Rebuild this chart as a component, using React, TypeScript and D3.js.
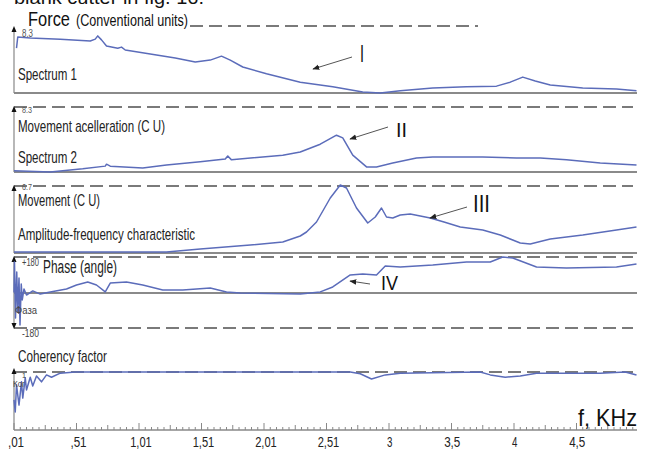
import { useRef, useEffect } from "react";
import * as d3 from "d3";

// frequency, kHz -> value (conventional units)
const spectrum1: [number, number][] = [
  [0.03, 6.2], [0.04, 7.75], [0.14, 7.6], [0.38, 7.45], [0.62, 7.2], [0.66, 7.45], [0.68, 7.9],
  [0.71, 7.35], [0.75, 6.5], [0.84, 6.2], [0.87, 6.35], [0.9, 5.95], [1.1, 5.4], [1.3, 4.85],
  [1.46, 4.3], [1.58, 4.55], [1.67, 5.1], [1.74, 4.55], [1.84, 3.6], [2.03, 2.65], [2.3, 1.5],
  [2.56, 0.85], [2.8, 0.15], [2.94, 0], [3.1, 0.3], [3.36, 0.7], [3.63, 0.85], [3.87, 0.95],
  [3.98, 1.5], [4.08, 2.2], [4.18, 1.65], [4.3, 1.1], [4.56, 0.7], [4.83, 0.55], [4.99, 0.3],
];

const spectrum2: [number, number][] = [
  [0.01, 0.15], [0.3, 0], [0.56, 0.4], [0.74, 0.75], [0.75, 1.0], [0.78, 0.75], [1.04, 0.5],
  [1.23, 0.9], [1.5, 1.3], [1.7, 1.65], [1.72, 2.05], [1.75, 1.55], [2.16, 2.15], [2.3, 2.55],
  [2.46, 3.55], [2.59, 4.7], [2.64, 4.35], [2.72, 2.15], [2.83, 0.65], [2.91, 0.65], [3.04, 1.15],
  [3.23, 1.8], [3.36, 1.9], [3.76, 1.9], [4.03, 1.8], [4.22, 1.8], [4.43, 1.55], [4.7, 1.15],
  [4.99, 0.9],
];

const afc: [number, number][] = [
  [0.01, 0.1], [0.4, 0.1], [1.23, 0.1], [1.5, 0.4], [1.9, 0.8], [2.16, 1.1], [2.3, 1.7],
  [2.35, 2.1], [2.43, 3.1], [2.54, 5.5], [2.62, 6.8], [2.67, 6.5], [2.75, 4.5], [2.84, 3.0],
  [2.9, 3.6], [2.95, 4.5], [2.99, 3.6], [3.04, 3.5], [3.1, 3.8], [3.18, 3.9], [3.26, 3.7],
  [3.34, 3.5], [3.45, 3.1], [3.58, 2.6], [3.76, 2.3], [3.9, 1.8], [4.06, 1.0], [4.14, 0.9],
  [4.3, 1.4], [4.56, 1.8], [4.83, 2.3], [4.99, 2.6],
];

// degrees
const phase: [number, number][] = [
  [0.01, 0], [0.014, 155], [0.022, -129], [0.032, 104], [0.04, -99], [0.05, 74], [0.058, -165],
  [0.068, 43], [0.076, -38], [0.09, 18], [0.11, -13], [0.16, 8], [0.22, -8], [0.3, 3],
  [0.43, 18], [0.51, 38], [0.6, 53], [0.67, 38], [0.74, 3], [0.78, 48], [0.91, 53], [1.04, 38],
  [1.2, 13], [1.36, 13], [1.58, 23], [1.71, 3], [1.82, -3], [2.3, -8], [2.46, 3], [2.56, 28],
  [2.7, 89], [2.8, 94], [2.91, 89], [2.98, 134], [3.1, 129], [3.36, 139], [3.63, 155], [3.82, 155],
  [3.92, 180], [4.0, 175], [4.19, 129], [4.43, 124], [4.83, 129], [4.99, 144],
];

const coherency: [number, number][] = [
  [0.01, 0.52], [0.02, 0.31], [0.03, 0.78], [0.05, 0.43], [0.07, 0.83], [0.08, 0.55], [0.1, 0.9],
  [0.11, 0.69], [0.14, 0.91], [0.16, 0.76], [0.19, 0.93], [0.23, 0.83], [0.27, 0.95], [0.31, 0.91],
  [0.38, 0.98], [0.5, 1], [2.7, 1], [2.78, 0.97], [2.87, 0.88], [2.98, 0.95], [3.1, 0.98],
  [3.74, 1], [3.82, 0.95], [3.94, 0.91], [4.06, 0.93], [4.19, 0.98], [4.7, 0.98], [4.9, 1],
  [4.99, 0.95],
];

const tickValues = [0.01, 0.51, 1.01, 1.51, 2.01, 2.51, 3, 3.5, 4, 4.5];
const tickLabels = [",01", ",51", "1,01", "1,51", "2,01", "2,51", "3", "3,5", "4", "4,5"];

const W = 649;
const H = 451;
const BLUE = "#5b6cba";
const GREY = "#7a7a7a";
const FONT = "'Liberation Sans', Arial, sans-serif";

const App = () => {
  const ref = useRef<SVGSVGElement>(null);

  useEffect(() => {
    const svg = d3.select(ref.current);
    svg.selectAll("*").remove();

    const x = d3.scaleLinear().domain([0, 5]).range([12.75, 637.75]);

    const defs = svg.append("defs");
    defs.append("marker")
      .attr("id", "ah")
      .attr("viewBox", "0 0 10 10")
      .attr("refX", 9).attr("refY", 5)
      .attr("markerWidth", 7).attr("markerHeight", 7)
      .attr("markerUnits", "userSpaceOnUse")
      .attr("orient", "auto")
      .append("path").attr("d", "M0,1 L10,5 L0,9 Z").attr("fill", "#222");

    const panels = [
      { data: spectrum1, domain: [0, 8.3], top: 33, base: 93 },
      { data: spectrum2, domain: [0, 8.3], top: 107, base: 172 },
      { data: afc, domain: [0, 6.7], top: 186, base: 253 },
      { data: phase, domain: [-180, 180], top: 257, base: 328 },
      { data: coherency, domain: [0, 1], top: 372, base: 430 },
    ];

    // squeezed text to mimic the narrow face of the original
    const label = (t: string, xx: number, yy: number, size: number, width: number, color = "#222") =>
      svg.append("text").attr("x", xx).attr("y", yy)
        .attr("font-family", FONT).attr("font-size", size).attr("fill", color)
        .attr("textLength", width).attr("lengthAdjust", "spacingAndGlyphs")
        .text(t);

    // top cropped caption
    label("blank cutter in fig. 16.", 14, 4, 19, 190, "#111");

    const dashed = (y: number, x1: number, x2: number) =>
      svg.append("line").attr("x1", x1).attr("x2", x2).attr("y1", y).attr("y2", y)
        .attr("stroke", GREY).attr("stroke-width", 1.8).attr("stroke-dasharray", "13,6");
    const solid = (y: number) =>
      svg.append("line").attr("x1", 14).attr("x2", 637).attr("y1", y).attr("y2", y)
        .attr("stroke", "#8a8a8a").attr("stroke-width", 2);
    const yAxis = (y1: number, y2: number, downArrow = false) => {
      svg.append("line").attr("x1", 14).attr("x2", 14).attr("y1", y1).attr("y2", y2)
        .attr("stroke", "#888").attr("stroke-width", 1.2);
      svg.append("path").attr("d", `M14,${y1 - 2} L11.5,${y1 + 4} L16.5,${y1 + 4} Z`).attr("fill", "#111");
      if (downArrow)
        svg.append("path").attr("d", `M14,${y2 + 2} L11.5,${y2 - 4} L16.5,${y2 - 4} Z`).attr("fill", "#111");
    };

    // reference lines
    dashed(26, 190, 478);
    solid(93);
    dashed(107, 14, 633);
    solid(172);
    dashed(186, 14, 633);
    solid(253);
    dashed(257, 14, 633);
    solid(293);
    dashed(328, 14, 633);
    dashed(372, 14, 633);

    yAxis(28, 93);
    yAxis(108, 172);
    yAxis(187, 253);
    yAxis(258, 327, true);
    yAxis(370, 430);

    // x axis
    svg.append("line").attr("x1", 14).attr("x2", 637).attr("y1", 430).attr("y2", 430)
      .attr("stroke", "#888").attr("stroke-width", 1.5);
    const minor = d3.range(0, 100).map((k) => 0.01 + k * 0.05);
    svg.append("g").selectAll("line").data(minor).join("line")
      .attr("x1", (d) => x(d)).attr("x2", (d) => x(d))
      .attr("y1", 430)
      .attr("y2", (_, i) => (i % 10 === 0 ? 423 : i % 5 === 0 ? 425 : 427))
      .attr("stroke", "#888").attr("stroke-width", 1);
    svg.append("g").selectAll("text").data(tickValues).join("text")
      .attr("x", (d) => x(d) + 2).attr("y", 447)
      .attr("text-anchor", "middle")
      .attr("font-family", FONT).attr("font-size", 14).attr("fill", "#222")
      .attr("textLength", (_, i) => tickLabels[i].length * 5.4)
      .attr("lengthAdjust", "spacingAndGlyphs")
      .text((_, i) => tickLabels[i]);

    // curves
    panels.forEach((p) => {
      const y = d3.scaleLinear().domain(p.domain).range([p.base, p.top]);
      const line = d3.line<[number, number]>().x((d) => x(d[0])).y((d) => y(d[1]));
      svg.append("path").datum(p.data).attr("d", line)
        .attr("fill", "none").attr("stroke", BLUE).attr("stroke-width", 1.5)
        .attr("stroke-linejoin", "round");
    });

    // texts
    label("Force", 28, 26, 21, 42, "#111");
    label("(Conventional units)", 76, 26, 16, 112, "#111");
    label("8.3", 22, 37, 10, 11, "#555");
    label("Spectrum 1", 18, 80, 17, 59);
    label("8.3", 22, 113, 9, 10, "#555");
    label("Movement acelleration (C U)", 18, 132, 17, 147);
    label("Spectrum 2", 18, 163, 17, 59);
    label("6.7", 22, 190, 9, 10, "#555");
    label("Movement (C U)", 18, 206, 17, 82);
    label("Amplitude-frequency characteristic", 18, 240, 17, 177);
    label("+180", 22, 266, 10, 17, "#444");
    label("Phase (angle)", 43, 273, 18, 74);
    label("Фаза", 15, 314, 10, 22, "#444");
    label("-180", 22, 337, 10, 17, "#444");
    label("Coherency factor", 18, 362, 17, 89);
    label("1", 22, 378, 8, 4, "#444");
    label("Ког", 13, 387, 9, 12, "#444");
    label("f, KHz", 578, 426, 24, 59, "#111");

    // roman numeral call-outs
    const callout = (t: string, tx: number, ty: number, size: number, w: number, a: number[]) => {
      label(t, tx, ty, size, w, "#111");
      svg.append("line").attr("x1", a[0]).attr("y1", a[1]).attr("x2", a[2]).attr("y2", a[3])
        .attr("stroke", "#555").attr("stroke-width", 1).attr("marker-end", "url(#ah)");
    };
    callout("I", 360, 62, 24, 4, [352, 57, 313, 69]);
    callout("II", 396, 137, 21, 11, [388, 127, 350, 139]);
    callout("III", 473, 212, 24, 17, [467, 207, 430, 218]);
    callout("IV", 381, 290, 21, 17, [370, 284, 350, 281]);
  }, []);

  return (
    <svg
      ref={ref}
      width={W}
      height={H}
      style={{ position: "absolute", left: 0, top: 0, background: "#fff" }}
    />
  );
};

export default App;
